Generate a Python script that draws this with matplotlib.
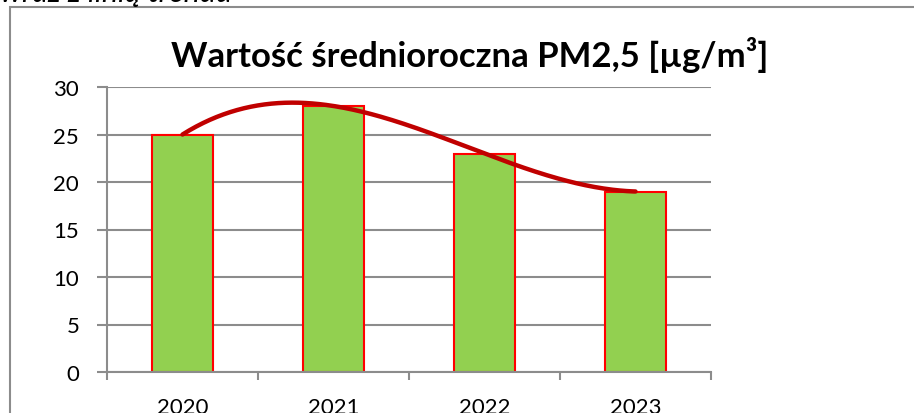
import numpy as np
import matplotlib
matplotlib.use("Agg")
import matplotlib.pyplot as plt
from matplotlib.patches import Rectangle

years = ["2020", "2021", "2022", "2023"]
values = [25, 28, 23, 19]
yticks = [0, 5, 10, 15, 20, 25, 30]
title = "Wartość średnioroczna PM2,5 [µg/m³]"
header = "wraz z linią trendu"

plt.rcParams['font.family'] = ['Lato', 'DejaVu Sans']

W, H = 914, 414
fig = plt.figure(figsize=(W / 100, H / 100), dpi=100)
ax = fig.add_axes([107 / W, 1 - 373 / H, (711 - 107) / W, (373 - 88) / H])

x = np.arange(len(years))
ax.bar(x, values, width=0.4, color="#92D050", edgecolor="#FF0000", linewidth=1.5, zorder=2)

# polynomial (order 3) trend line
coef = np.polyfit(x, values, 3)
xs = np.linspace(x[0], x[-1], 200)
ax.plot(xs, np.polyval(coef, xs), color="#C00000", linewidth=3.2, zorder=3, solid_capstyle="round")

ax.set_xlim(-0.5, len(years) - 0.5)
ax.set_ylim(0, 30)
ax.set_yticks(yticks)
ax.set_yticklabels([str(t) for t in yticks], fontsize=16)
ax.yaxis.grid(True, color="#8C8C8C", linewidth=1.5, zorder=0)
ax.set_axisbelow(True)

ax.set_xticks(np.arange(-0.5, len(years), 1.0))
ax.set_xticklabels([])
ax.set_xticks(x, minor=True)
ax.set_xticklabels(years, minor=True, fontsize=16)
ax.tick_params(axis="x", which="major", length=6, width=1.5, color="#8C8C8C", direction="out")
ax.tick_params(axis="x", which="minor", length=0, pad=18)
ax.tick_params(axis="y", length=7, width=1.5, color="#8C8C8C", pad=13)

for s in ["top", "right"]:
    ax.spines[s].set_visible(False)
for s in ["left", "bottom"]:
    ax.spines[s].set_color("#8C8C8C")
    ax.spines[s].set_linewidth(1.5)

fig.text(470 / W, 1 - 55 / H, title, fontsize=25, fontweight="bold", ha="center", va="center")
fig.text(0 / W, 1 - 2 / H, header, fontsize=22, style="italic", ha="left", va="baseline")

box = Rectangle((10 / W, -0.2), 1.2, 1 - 8 / H + 0.2, transform=fig.transFigure,
                fill=False, edgecolor="#8C8C8C", linewidth=1.5, clip_on=False)
fig.patches.append(box)

fig.savefig("out.png", dpi=100)
